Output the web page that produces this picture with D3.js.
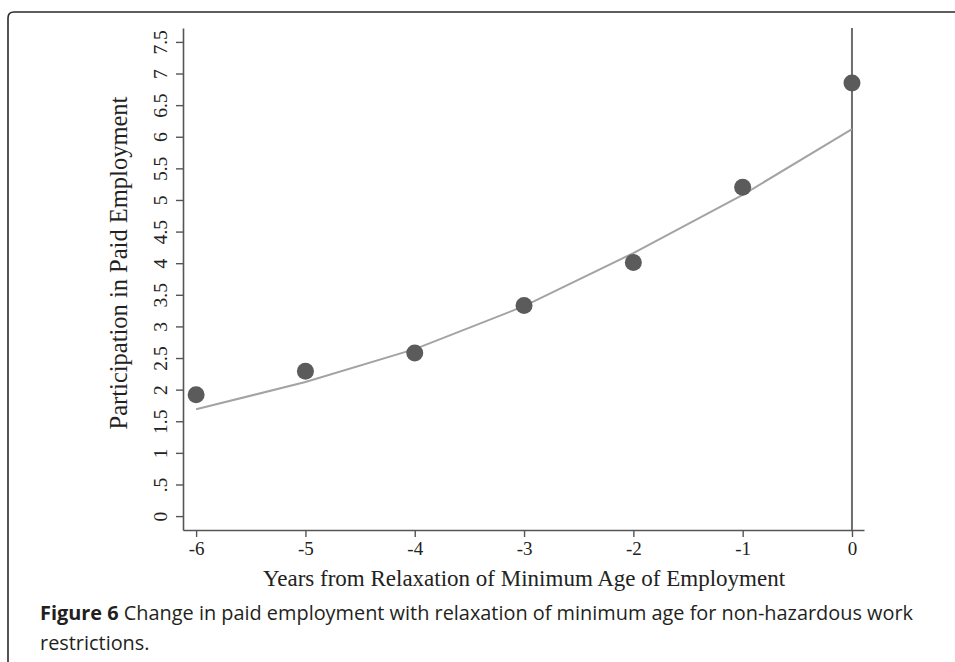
<!DOCTYPE html>
<html>
<head>
<meta charset="utf-8">
<script src="https://cdn.jsdelivr.net/npm/d3@7"></script>
<style>
  html, body { margin: 0; padding: 0; background: #fff; }
  svg { display: block; }
</style>
</head>
<body>
<svg id="chart" width="955" height="662"></svg>
<script>
// Years relative to the relaxation of the minimum employment age
const years = [-6, -5, -4, -3, -2, -1, 0];
// Observed participation in paid employment (%)
const participation = [1.92, 2.29, 2.58, 3.33, 4.01, 5.2, 6.85];
// Fitted trend values at each year
const fitted = [1.69, 2.12, 2.64, 3.32, 4.16, 5.08, 6.12];
// Axis tick values and labels
const yTicks = [0, 0.5, 1, 1.5, 2, 2.5, 3, 3.5, 4, 4.5, 5, 5.5, 6, 6.5, 7, 7.5];
const yTickLabels = ["0", ".5", "1", "1.5", "2", "2.5", "3", "3.5", "4", "4.5", "5", "5.5", "6", "6.5", "7", "7.5"];
const xTicks = [-6, -5, -4, -3, -2, -1, 0];

const svg = d3.select("#chart");
const serif = "'Liberation Serif', 'Times New Roman', serif";
const sans = "'Open Sans', 'Noto Sans', sans-serif";

// Outer figure frame with a rounded top-left corner
svg.append("path")
  .attr("d", "M8,662 L8,18 Q8,12 14,12 L955,12")
  .attr("fill", "none")
  .attr("stroke", "#2a2a2a")
  .attr("stroke-width", 1.6);

const x = d3.scaleLinear().domain([-6.12, 0.11]).range([183, 864]);
const y = d3.scaleLinear().domain([-0.22, 7.72]).range([530, 28]);

const axisColor = "#555";

// Y axis
const yAxis = svg.append("g")
  .attr("transform", `translate(${x.range()[0]},0)`)
  .call(d3.axisLeft(y).tickValues(yTicks).tickSize(7).tickSizeOuter(0)
    .tickFormat((d, i) => yTickLabels[i]));
yAxis.select(".domain").attr("stroke", axisColor).attr("stroke-width", 1.6);
yAxis.selectAll(".tick line").attr("stroke", axisColor).attr("stroke-width", 1.4);
yAxis.selectAll(".tick text")
  .attr("font-family", serif)
  .attr("font-size", 19.5)
  .attr("fill", "#222")
  .attr("x", 0)
  .attr("dy", 0)
  .attr("text-anchor", "middle")
  .attr("transform", "translate(-16,0) rotate(-90)");

// X axis
const xAxis = svg.append("g")
  .attr("transform", `translate(0,${y.range()[0]})`)
  .call(d3.axisBottom(x).tickValues(xTicks).tickSize(7).tickSizeOuter(0)
    .tickFormat(d3.format("d")));
xAxis.select(".domain").attr("stroke", axisColor).attr("stroke-width", 1.6);
xAxis.selectAll(".tick line").attr("stroke", axisColor).attr("stroke-width", 1.4);
xAxis.selectAll(".tick text")
  .attr("font-family", serif)
  .attr("font-size", 19)
  .attr("fill", "#222")
  .attr("y", 12)
  .attr("dy", "0.71em")
  .text(d => d < 0 ? "-" + Math.abs(d) : d);

// Reference line at the year of relaxation
svg.append("line")
  .attr("x1", x(0)).attr("x2", x(0))
  .attr("y1", y.range()[1]).attr("y2", y.range()[0])
  .attr("stroke", "#6e6e6e")
  .attr("stroke-width", 2);

// Fitted trend
const line = d3.line()
  .x((d, i) => x(years[i]))
  .y(d => y(d));
svg.append("path")
  .datum(fitted)
  .attr("d", line)
  .attr("fill", "none")
  .attr("stroke", "#a3a3a3")
  .attr("stroke-width", 2);

// Observed points
svg.append("g").selectAll("circle")
  .data(participation)
  .join("circle")
  .attr("cx", (d, i) => x(years[i]))
  .attr("cy", d => y(d))
  .attr("r", 8.5)
  .attr("fill", "#5b5b5b");

// Axis titles
svg.append("text")
  .attr("x", 524)
  .attr("y", 586)
  .attr("text-anchor", "middle")
  .attr("font-family", serif)
  .attr("font-size", 23)
  .attr("fill", "#222")
  .text("Years from Relaxation of Minimum Age of Employment");

svg.append("text")
  .attr("transform", `translate(127,263) rotate(-90)`)
  .attr("text-anchor", "middle")
  .attr("font-family", serif)
  .attr("font-size", 24.5)
  .attr("fill", "#222")
  .text("Participation in Paid Employment");

// Figure caption
const caption = svg.append("text")
  .attr("font-family", sans)
  .attr("font-size", 19.9)
  .attr("fill", "#231f20");
const l1 = caption.append("tspan").attr("x", 40).attr("y", 620);
l1.append("tspan").attr("font-weight", "bold").text("Figure 6");
l1.append("tspan").text(" Change in paid employment with relaxation of minimum age for non-hazardous work");
caption.append("tspan").attr("x", 40).attr("y", 650).text("restrictions.");
</script>
</body>
</html>
